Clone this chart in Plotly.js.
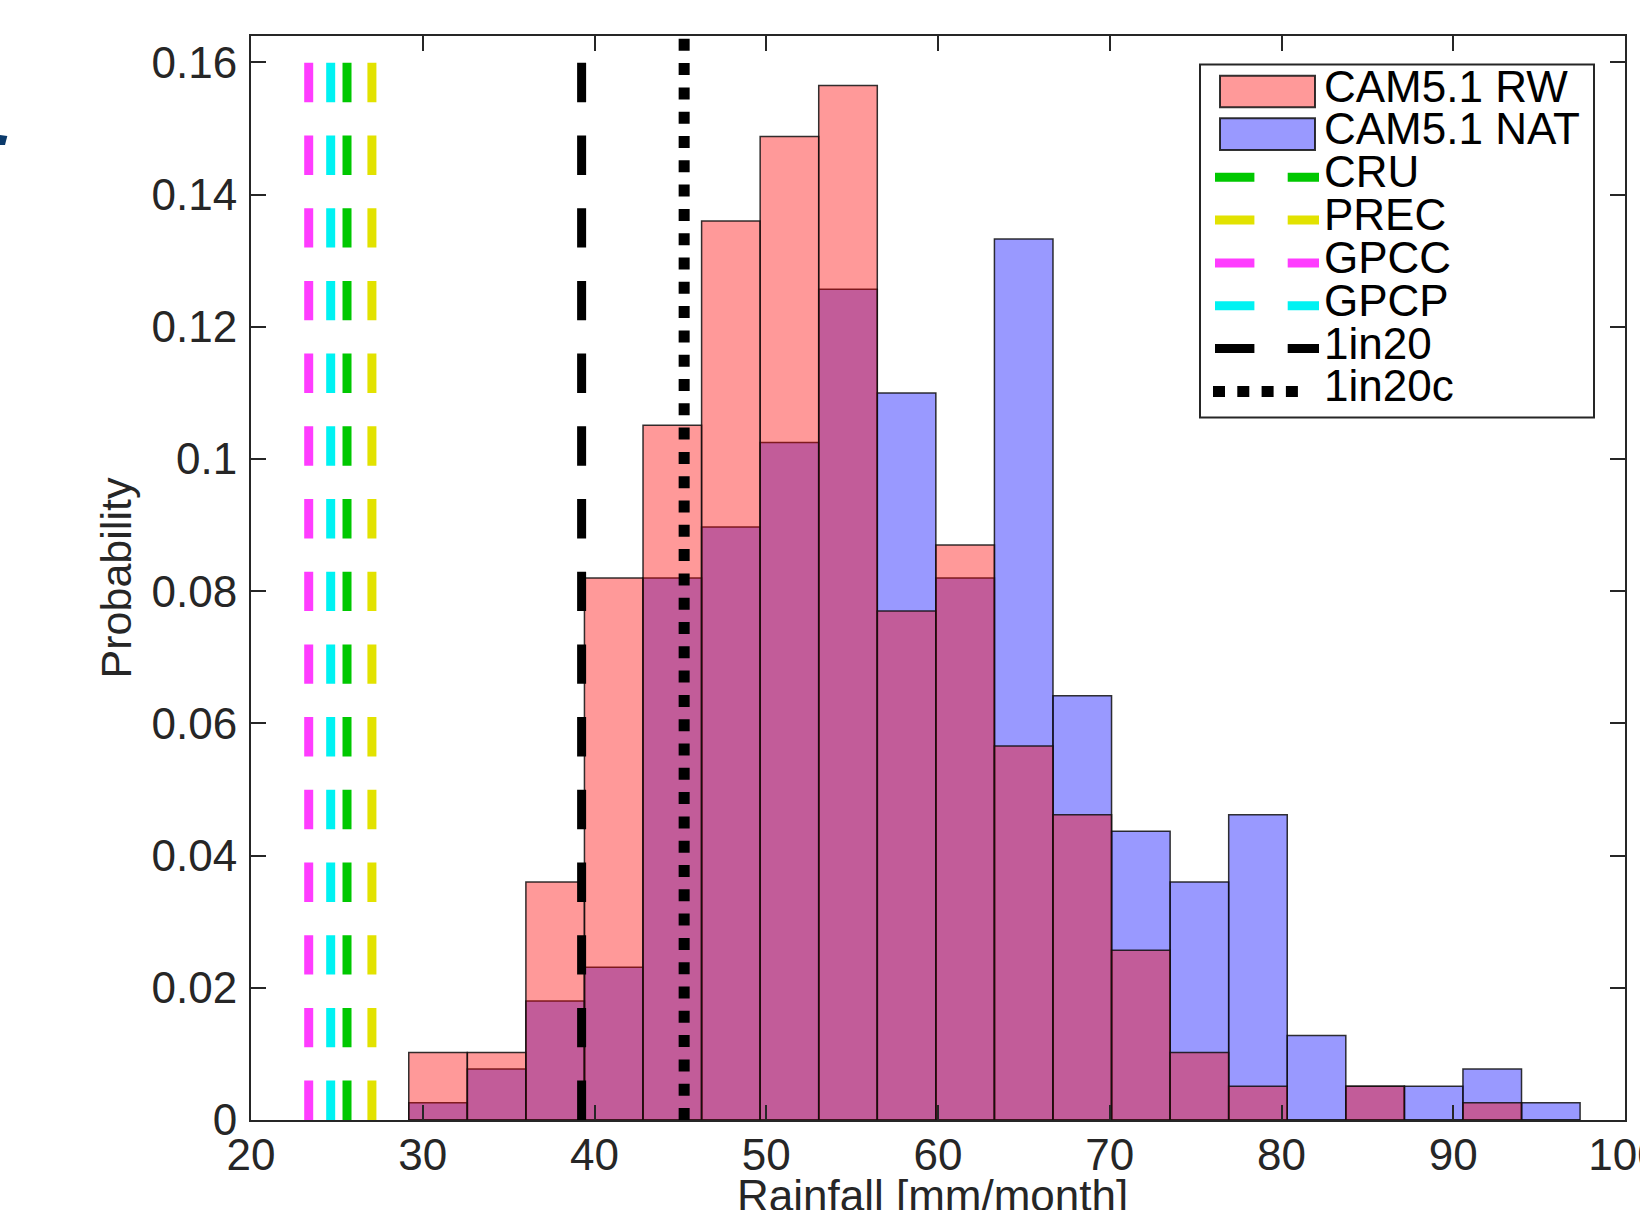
<!DOCTYPE html>
<html>
<head>
<meta charset="utf-8">
<script src="https://cdn.plot.ly/plotly-3.0.1.min.js"></script>
<style>html,body{margin:0;padding:0;background:#fff;}#chart{width:1640px;height:1210px;}</style>
</head>
<body>
<div id="chart"></div>
<script>
// ---- data ----
const binCenters = [30.89, 34.30, 37.71, 41.12, 44.53, 47.94, 51.35, 54.76, 58.17, 61.58,
                    64.99, 68.40, 71.81, 75.22, 78.63, 82.04, 85.45, 88.86, 92.27, 95.68];
const binWidth = 3.41;
const probRW  = [0.0102, 0.0102, 0.0360, 0.0820, 0.1051, 0.1360, 0.1488, 0.1565, 0.0770, 0.0870,
                 0.0566, 0.0462, 0.0257, 0.0102, 0.0051, 0.0000, 0.0051, 0.0000, 0.0026, 0.0000];
const probNAT = [0.0026, 0.0077, 0.0180, 0.0231, 0.0820, 0.0897, 0.1025, 0.1257, 0.1100, 0.0820,
                 0.1333, 0.0642, 0.0437, 0.0360, 0.0462, 0.0128, 0.0051, 0.0051, 0.0077, 0.0026];
const obsNames  = ['CRU', 'PREC', 'GPCC', 'GPCP'];
const obsValues = [25.59, 27.04, 23.36, 24.64];
const thrNames  = ['1in20', '1in20c'];
const thrValues = [39.25, 45.22];
const seriesNames = ['CAM5.1 RW', 'CAM5.1 NAT'];
const xTickVals = [20, 30, 40, 50, 60, 70, 80, 90, 100];
const xTickText = ['20', '30', '40', '50', '60', '70', '80', '90', '100'];
const yTickVals = [0, 0.02, 0.04, 0.06, 0.08, 0.1, 0.12, 0.14, 0.16];
const yTickText = ['0', '0.02', '0.04', '0.06', '0.08', '0.1', '0.12', '0.14', '0.16'];
const xTitle = 'Rainfall [mm/month]';
const yTitle = 'Probability';

// ---- style ----
const FONT = 'Liberation Sans, Arial, Helvetica, sans-serif';
const AX = '#262626';
const obsColors = {CRU: '#00c800', PREC: '#e2e200', GPCC: '#ff3cff', GPCP: '#00f2f2'};
const LINE_TOP = 0.16, Y_MAX = 0.164;
const DASH = '39.4px,33.3px';
const DOT = '12px,12.3px';
const M = {l: 251, r: 15, t: 36, b: 90};
const PW = 1640 - M.l - M.r, PH = 1210 - M.t - M.b;
const px = x => (x - M.l) / PW;            // pixel -> paper x
const py = y => (1210 - M.b - y) / PH;      // pixel -> paper y

const edge = {color: 'rgba(15,15,15,0.85)', width: 1.5};
const traces = [];
traces.push({type: 'bar', name: seriesNames[1], x: binCenters, y: probNAT, width: binWidth,
  marker: {color: 'rgba(0,0,255,0.4)', line: edge}, showlegend: false});
traces.push({type: 'bar', name: seriesNames[0], x: binCenters, y: probRW, width: binWidth,
  marker: {color: 'rgba(255,0,0,0.4)', line: edge}, showlegend: false});
obsNames.forEach((n, i) => {
  traces.push({type: 'scatter', mode: 'lines', name: n, x: [obsValues[i], obsValues[i]], y: [0, LINE_TOP],
    line: {color: obsColors[n], width: 9, dash: DASH}, showlegend: false, hoverinfo: 'name+x'});
});
traces.push({type: 'scatter', mode: 'lines', name: thrNames[0], x: [thrValues[0], thrValues[0]], y: [0, LINE_TOP],
  line: {color: '#000', width: 9, dash: DASH}, showlegend: false});
traces.push({type: 'scatter', mode: 'lines', name: thrNames[1], x: [thrValues[1], thrValues[1]], y: [0, Y_MAX],
  line: {color: '#000', width: 11, dash: DOT}, showlegend: false});

// ---- hand-drawn legend (matches the compact MATLAB legend) ----
const shapes = [];
const annotations = [];
shapes.push({type: 'rect', xref: 'paper', yref: 'paper', x0: px(1200), x1: px(1594), y0: py(64.5), y1: py(417.5),
  line: {color: AX, width: 2}, fillcolor: '#fff', layer: 'above'});
const rowY = [87.5, 130.4, 173.2, 216.1, 258.9, 301.8, 344.6, 387.5];
const legendLabels = [seriesNames[0], seriesNames[1], obsNames[0], obsNames[1], obsNames[2], obsNames[3], thrNames[0], thrNames[1]];
shapes.push({type: 'rect', xref: 'paper', yref: 'paper', x0: px(1220), x1: px(1315), y0: py(75.7), y1: py(107.3),
  fillcolor: 'rgba(255,0,0,0.4)', line: {color: 'rgba(15,15,15,0.85)', width: 2}, layer: 'above'});
shapes.push({type: 'rect', xref: 'paper', yref: 'paper', x0: px(1220), x1: px(1315), y0: py(118.3), y1: py(150),
  fillcolor: 'rgba(0,0,255,0.4)', line: {color: 'rgba(15,15,15,0.85)', width: 2}, layer: 'above'});
const sampleColors = [obsColors.CRU, obsColors.PREC, obsColors.GPCC, obsColors.GPCP, '#000'];
sampleColors.forEach((c, i) => {
  const yy = py(rowY[i + 2] + 4);
  shapes.push({type: 'line', xref: 'paper', yref: 'paper', x0: px(1215), x1: px(1319), y0: yy, y1: yy,
    line: {color: c, width: 9, dash: DASH}, layer: 'above'});
});
shapes.push({type: 'line', xref: 'paper', yref: 'paper', x0: px(1213), x1: px(1306), y0: py(rowY[7] + 4), y1: py(rowY[7] + 4),
  line: {color: '#000', width: 11, dash: DOT}, layer: 'above'});
legendLabels.forEach((t, i) => {
  annotations.push({xref: 'paper', yref: 'paper', x: px(1322), y: py(rowY[i] - 1.5), xanchor: 'left', yanchor: 'middle',
    text: t, showarrow: false, font: {family: FONT, size: 44, color: '#000'}});
});
// x-axis title: sits at the very bottom edge (partly cut off, as in the original)
annotations.push({xref: 'paper', yref: 'paper', x: px(932), y: py(1195), xanchor: 'center', yanchor: 'middle',
  text: xTitle, showarrow: false, font: {family: FONT, size: 44, color: AX}});
// small dark mark at the very left edge of the original image
shapes.push({type: 'path', xref: 'paper', yref: 'paper',
  path: `M ${px(0)},${py(135)} L ${px(7.3)},${py(136)} L ${px(5)},${py(145)} L ${px(0)},${py(145)} Z`,
  fillcolor: '#0b3a6b', line: {width: 0}});

const axisCommon = {
  showline: true, linewidth: 2, linecolor: AX, mirror: 'allticks',
  ticks: 'inside', ticklen: 15, tickwidth: 2, tickcolor: AX,
  showgrid: false, zeroline: false, automargin: false, ticklabeloverflow: 'allow',
  tickfont: {family: FONT, size: 44, color: AX}, fixedrange: true
};
const layout = {
  width: 1640, height: 1210,
  margin: M,
  paper_bgcolor: '#fff', plot_bgcolor: '#fff',
  barmode: 'overlay', bargap: 0,
  showlegend: false,
  xaxis: Object.assign({}, axisCommon, {range: [20, 100], tickmode: 'array', tickvals: xTickVals, ticktext: xTickText,
    ticklabelstandoff: -5}),
  yaxis: Object.assign({}, axisCommon, {range: [0, Y_MAX], tickmode: 'array', tickvals: yTickVals, ticktext: yTickText,
    ticklabelstandoff: 3,
    title: {text: yTitle, font: {family: FONT, size: 43, color: AX}, standoff: 7}}),
  shapes: shapes,
  annotations: annotations
};
Plotly.newPlot('chart', traces, layout, {displayModeBar: false, staticPlot: true});
</script>
</body>
</html>
